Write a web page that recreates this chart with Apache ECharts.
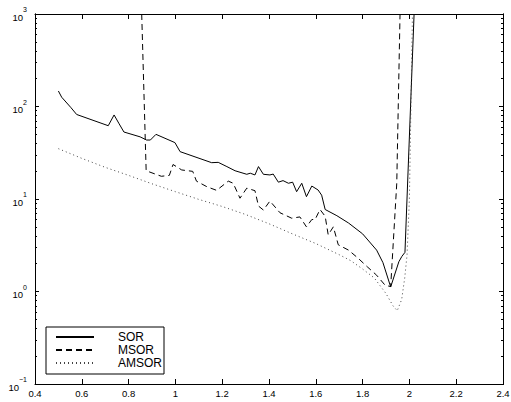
<!DOCTYPE html>
<html>
<head>
<meta charset="utf-8">
<script src="https://cdn.jsdelivr.net/npm/echarts@6/dist/echarts.min.js"></script>
<style>
html,body{margin:0;padding:0;background:#fff;}
#wrap{position:relative;width:511px;height:402px;}
#c{width:511px;height:402px;}
#fb{position:absolute;left:35px;top:14px;width:469px;height:371px;border:1px solid #000;box-sizing:border-box;pointer-events:none;}
</style>
</head>
<body>
<div id="wrap"><div id="c"></div><div id="fb"></div></div>
<script>
// ---- data ----
const xTicks = [0.4, 0.6, 0.8, 1, 1.2, 1.4, 1.6, 1.8, 2, 2.2, 2.4];
const seriesNames = ['SOR', 'MSOR', 'AMSOR'];

const sorX = [0.5, 0.514, 0.554, 0.578, 0.713, 0.738, 0.758, 0.78, 0.849, 0.877, 0.893, 0.917, 0.998, 1.02, 1.155, 1.183, 1.22, 1.255, 1.305, 1.32, 1.34, 1.355, 1.376, 1.404, 1.418, 1.44, 1.46, 1.483, 1.501, 1.518, 1.54, 1.56, 1.583, 1.61, 1.625, 1.64, 1.69, 1.74, 1.80, 1.86, 1.887, 1.92, 1.955, 1.968, 1.981, 2.02];
const sorY = [147, 126, 97, 82, 62, 81, 66, 53, 47, 43.4, 43.4, 50, 40.7, 32.5, 24.7, 24.9, 22.4, 20.2, 18.5, 19, 18.2, 22.4, 18.5, 18.2, 18.6, 15.2, 15.8, 14.8, 15.2, 12.0, 14.8, 10.6, 13.8, 12.5, 11.0, 7.7, 6.6, 5.5, 4.2, 2.8, 2.05, 1.12, 2.1, 2.4, 2.65, 1000];

const msorX = [0.856, 0.875, 0.94, 0.974, 0.99, 1.027, 1.074, 1.09, 1.134, 1.176, 1.226, 1.247, 1.276, 1.305, 1.34, 1.355, 1.376, 1.404, 1.447, 1.497, 1.532, 1.56, 1.583, 1.597, 1.618, 1.64, 1.653, 1.675, 1.696, 1.74, 1.78, 1.82, 1.86, 1.896, 1.92, 1.946, 1.96];
const msorY = [1000, 20.2, 17.6, 18.0, 23.6, 20.6, 19.9, 15.6, 13.6, 12.4, 15.6, 14.8, 10.2, 13.1, 12.3, 8.4, 7.6, 9.5, 7.1, 6.2, 6.4, 5.0, 6.0, 6.0, 7.7, 6.5, 4.1, 5.0, 3.2, 2.8, 2.3, 1.85, 1.5, 1.17, 1.13, 14.8, 1000];

const amsorX = [0.5, 0.6, 0.7, 0.8, 0.9, 1.0, 1.1, 1.2, 1.3, 1.4, 1.5, 1.6, 1.7, 1.75, 1.8, 1.85, 1.9, 1.93, 1.948, 1.967, 1.98, 1.99, 2.0, 2.013];
const amsorY = [35, 27.5, 22, 18, 14.6, 12, 9.9, 8.3, 6.8, 5.4, 4.2, 3.3, 2.5, 2.15, 1.75, 1.4, 0.95, 0.7, 0.62, 0.82, 1.4, 2.5, 10, 1000];

// minor tick positions (2..9 per decade), in exponent units
const minorTicks = [];
for (let e = -1; e < 3; e++) for (let m = 2; m <= 9; m++) minorTicks.push(Math.log10(m) + e);

function pairs(xs, ys) { return xs.map((x, i) => [x, ys[i]]); }

const FONT = 'Liberation Sans';
const black = '#000';

const minorY = {
  type: 'value', min: -1, max: 3, splitLine: {show: false},
  axisLine: {show: true, onZero: false, lineStyle: {color: black, width: 1}},
  axisLabel: {show: false},
  axisTick: {show: true, inside: true, length: 2, customValues: minorTicks, lineStyle: {color: black, width: 1}}
};

const option = {
  animation: false,
  backgroundColor: '#fff',
  grid: {left: 35, right: 8, top: 14, bottom: 18, containLabel: false, outerBoundsMode: 'none', show: false},
  legend: {
    orient: 'vertical', left: 46, top: 327, data: seriesNames,
    backgroundColor: '#fff', borderColor: black, borderWidth: 1, borderRadius: 0,
    padding: [4, 2, 5, 9], itemWidth: 38, itemHeight: 12, itemGap: 1, selectedMode: false,
    itemStyle: {opacity: 0},
    textStyle: {fontFamily: FONT, fontSize: 12, color: black, padding: [0, 0, 0, 19], lineHeight: 12}
  },
  xAxis: [
    {type: 'value', min: 0.4, max: 2.4, interval: 0.2, position: 'bottom', splitLine: {show: false},
      axisLine: {show: true, onZero: false, lineStyle: {color: black, width: 1}},
      axisTick: {show: true, inside: true, length: 5, lineStyle: {color: black, width: 1}},
      axisLabel: {fontFamily: FONT, fontSize: 9.5, color: black, margin: 4,
        formatter: v => String(+(+v).toFixed(1))}},
    {type: 'value', min: 0.4, max: 2.4, interval: 0.2, position: 'top', splitLine: {show: false},
      axisLine: {show: true, onZero: false, lineStyle: {color: black, width: 1}},
      axisTick: {show: true, inside: true, length: 5, lineStyle: {color: black, width: 1}},
      axisLabel: {show: false}}
  ],
  yAxis: [
    {type: 'log', logBase: 10, min: 0.1, max: 1000, interval: 1, position: 'left', splitLine: {show: false},
      axisLine: {show: true, onZero: false, lineStyle: {color: black, width: 1}},
      axisTick: {show: true, inside: true, length: 4, lineStyle: {color: black, width: 1}},
      axisLabel: {
        margin: 8, color: black,
        formatter: v => { const e = Math.round(Math.log10(v)); return '{b|10}{s|' + (e < 0 ? '\u2212' + (-e) : e) + '}'; },
        rich: {
          b: {fontFamily: FONT, fontSize: 9.5, color: black, verticalAlign: 'bottom', padding: [6, 0, 0, 0]},
          s: {fontFamily: FONT, fontSize: 7, color: black, verticalAlign: 'top', padding: [0, 0, 6, 0]}
        }
      }},
    {type: 'log', logBase: 10, min: 0.1, max: 1000, interval: 1, position: 'right', splitLine: {show: false},
      axisLine: {show: true, onZero: false, lineStyle: {color: black, width: 1}},
      axisTick: {show: true, inside: true, length: 4, lineStyle: {color: black, width: 1}},
      axisLabel: {show: false}},
    Object.assign({}, minorY, {position: 'left'}),
    Object.assign({}, minorY, {position: 'right'})
  ],
  series: [
    {name: seriesNames[0], type: 'line', data: pairs(sorX, sorY), symbol: 'none',
      lineStyle: {color: black, width: 1}},
    {name: seriesNames[1], type: 'line', data: pairs(msorX, msorY), symbol: 'none',
      lineStyle: {color: black, width: 1, type: [6, 4]}},
    {name: seriesNames[2], type: 'line', data: pairs(amsorX, amsorY), symbol: 'none',
      lineStyle: {color: '#444', width: 1, type: [1, 3]}}
  ]
};

const chart = echarts.init(document.getElementById('c'), null, {renderer: 'svg'});
chart.setOption(option);
</script>
</body>
</html>
